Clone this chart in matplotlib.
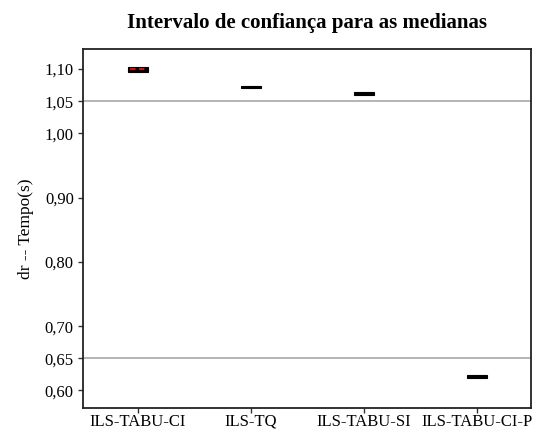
"""Intervalo de confianca para as medianas"""

import matplotlib
matplotlib.use("Agg")
import matplotlib.pyplot as plt

metodos = ["ILS-TABU-CI", "ILS-TQ", "ILS-TABU-SI", "ILS-TABU-CI-P"]
mediana = [1.0995, 1.072, 1.0624, 0.6222]
ic_inf = [1.0960, 1.0700, 1.0602, 0.6200]
ic_sup = [1.1030, 1.0742, 1.0646, 0.6244]
ref_linhas = [1.05, 0.65]
yticks = [0.60, 0.65, 0.70, 0.80, 0.90, 1.00, 1.05, 1.10]

plt.rcParams['font.family'] = ['Liberation Serif', 'DejaVu Serif']

fig, ax = plt.subplots(figsize=(5.38, 4.32), dpi=100)
fig.subplots_adjust(left=0.154, right=0.987, top=0.887, bottom=0.056)

pos = list(range(1, len(metodos) + 1))

for y in ref_linhas:
    ax.axhline(y, color='#b4b4b4', lw=1.4, zorder=1)

alturas = [s - i for s, i in zip(ic_sup, ic_inf)]
ax.bar(pos, alturas, bottom=ic_inf, width=0.18, color='black',
       edgecolor='black', lw=0.8, zorder=3)
# mediana do primeiro metodo destacada em vermelho
ax.hlines(mediana[0], pos[0] - 0.07, pos[0] + 0.07, color='#d01010',
          lw=1.6, linestyles=(0, (2.5, 1.5)), zorder=4)

ax.set_xlim(0.513, 4.48)
ax.set_ylim(0.573, 1.1316)
ax.set_xticks(pos)
ax.set_xticklabels(metodos, fontsize=12, va='baseline')
ax.set_yticks(yticks)
ax.set_yticklabels([f"{v:.2f}".replace('.', ',') for v in yticks], fontsize=12)
ax.tick_params(axis='both', direction='out', length=3.5, width=1, color='#333333')
ax.tick_params(axis='x', pad=9.5)
ax.tick_params(axis='y', pad=3)

for s in ax.spines.values():
    s.set_linewidth(1.3)
    s.set_color('#222222')

ax.set_ylabel("dr -- Tempo(s)", fontsize=12.5)
ax.yaxis.set_label_coords(-0.11, 0.5)
ax.set_title("Intervalo de confiança para as medianas", fontsize=15,
             fontweight='bold', pad=15)

fig.savefig("out.png", dpi=100)
